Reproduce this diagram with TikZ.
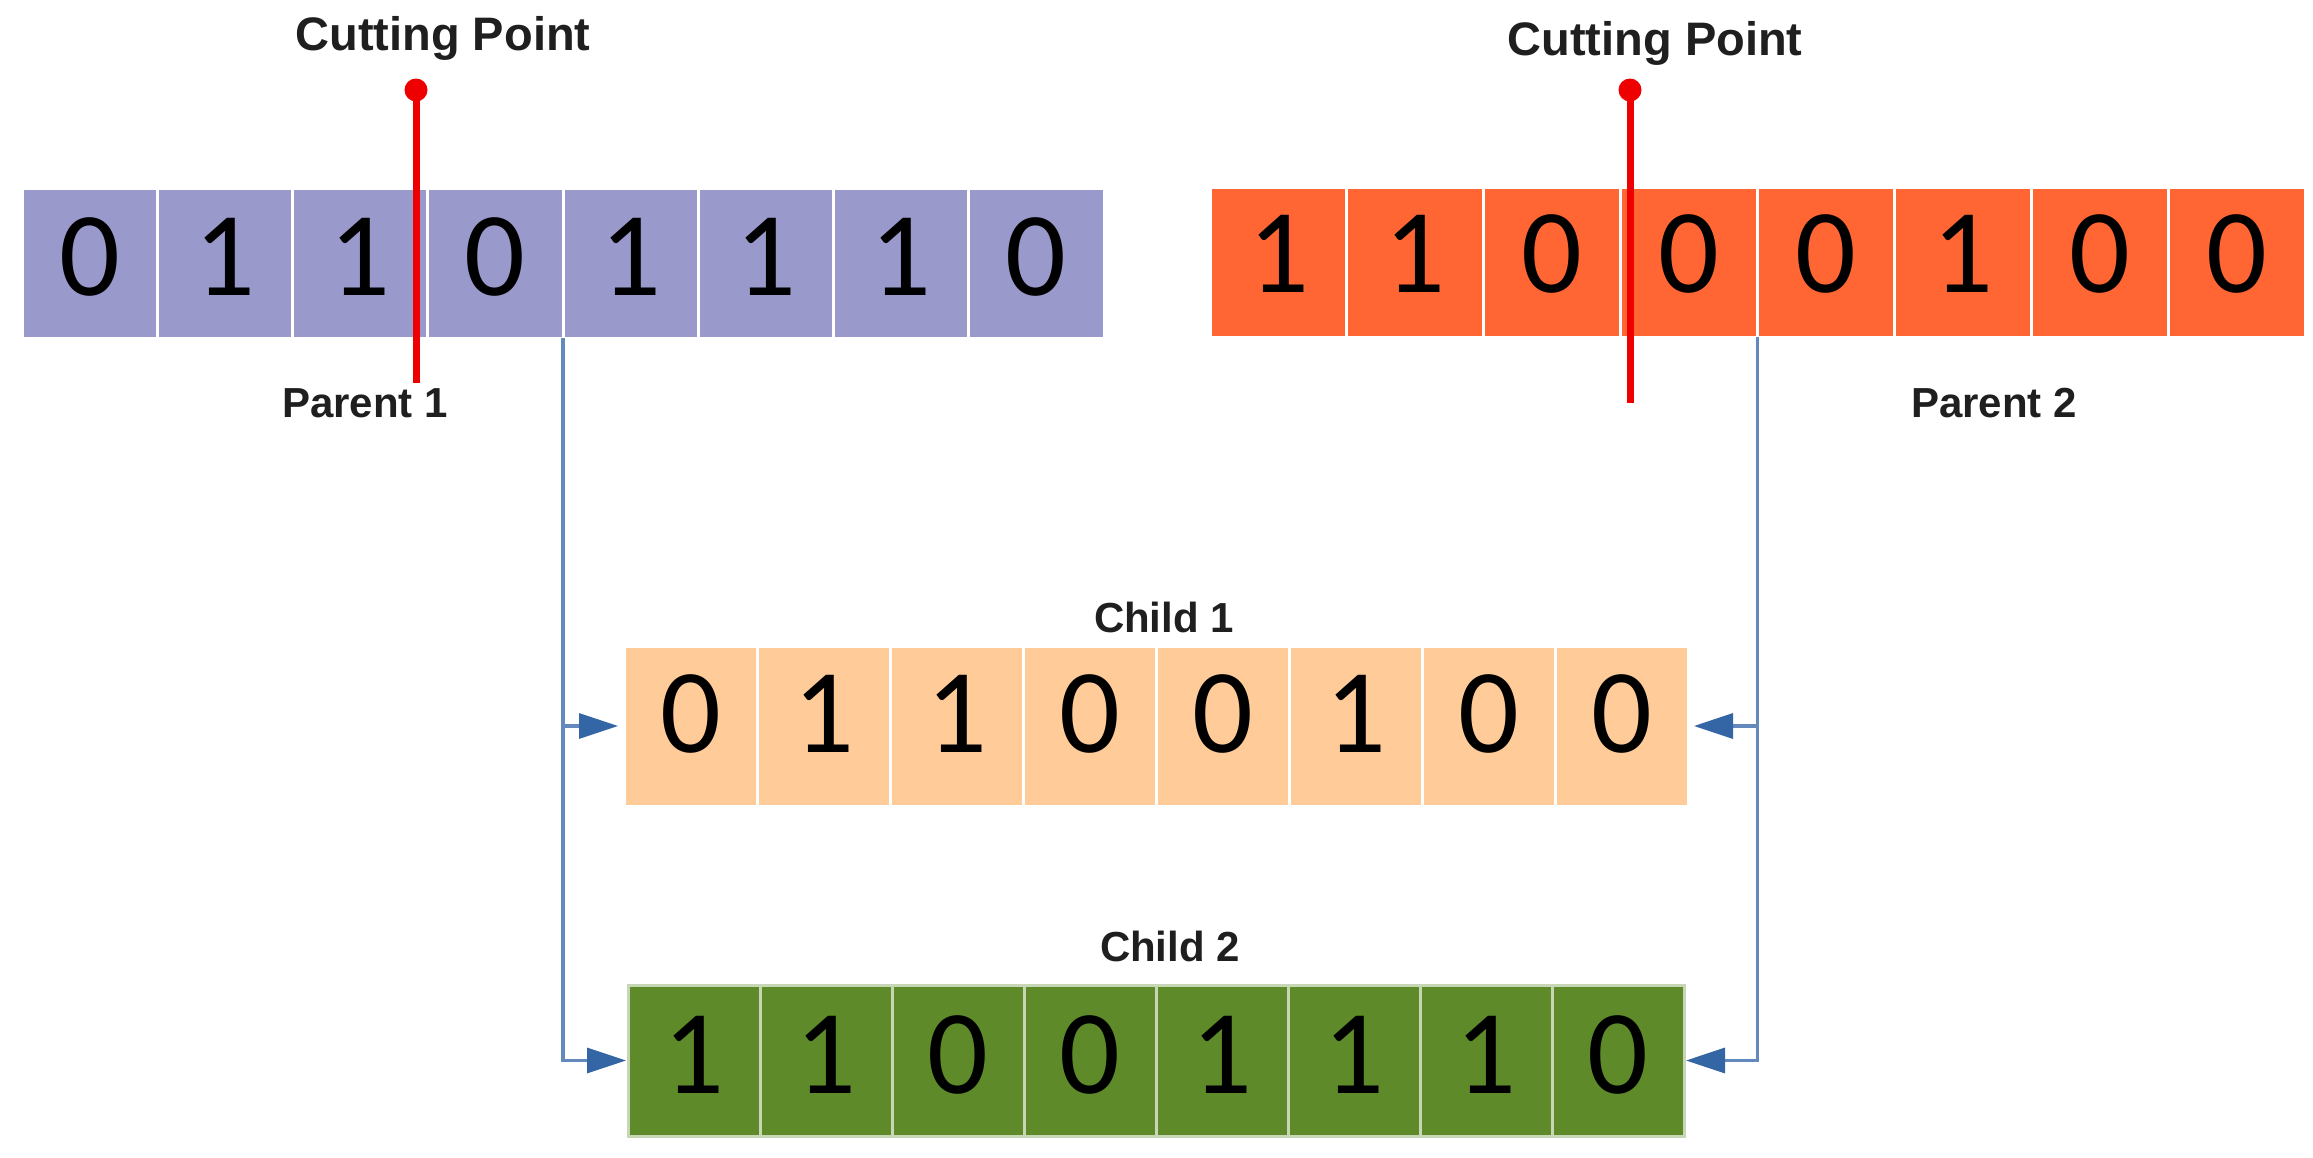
\documentclass[tikz,border=0pt]{standalone}
\usepackage{fontspec}
\setmainfont{Liberation Sans}
\newfontfamily\digitfont{Carlito}
\usetikzlibrary{arrows.meta}
\definecolor{pone}{HTML}{9999CC}
\definecolor{ptwo}{HTML}{FF6633}
\definecolor{cone}{HTML}{FFCC99}
\definecolor{ctwo}{HTML}{5E8A2A}
\definecolor{connblue}{HTML}{3465A4}
\definecolor{connline}{HTML}{6389BD}
\definecolor{cutred}{HTML}{EE0000}
\newcommand\bitrow[9]{% name, x0, y0, cell width, height, fill, baseline, border, digits
  \foreach \d [count=\i] in {#9} {
    \node[cellbox, draw=#8, fill=#6, minimum width={#4*0.5pt}, minimum height={#5*0.5pt}]
      (#1-\i) at ({#2+(\i-0.5)*#4}, {#3+#5/2}) {};
    \node[bit] (#1-b\i) at ({#2+(\i-0.5)*#4}, #7) {\d};
  }
}
\begin{document}
\begin{tikzpicture}[x=0.5pt,y=-0.5pt]
\tikzset{
  cellbox/.style={line width=1.5pt, inner sep=0pt, outer sep=0pt},
  bit/.style={font=\digitfont\fontsize{60pt}{60pt}\selectfont, anchor=base, inner sep=0pt, text=black},
  lbl/.style={font=\bfseries\fontsize{21pt}{21pt}\selectfont, anchor=base, inner sep=0pt, text=black!88},
  cutlbl/.style={lbl, font=\bfseries\fontsize{23.5pt}{23.5pt}\selectfont},
  conn/.style={draw=connline, line width=1.7pt},
  arr/.style={conn, -{Triangle[length=19.5pt,width=12.5pt,color=connblue]}},
  cutline/.style={draw=cutred, line width=3.5pt},
  cutdot/.style={circle, fill=cutred, minimum size=11.5pt, inner sep=0pt},
}
\useasboundingbox (0,0) rectangle (2313,1157);
\fill[white] (0,0) rectangle (2313,1157);

% rows
\bitrow{pa}{22}{188}{135.25}{150}{pone}{295}{white}{0,1,1,0,1,1,1,0}
\bitrow{pb}{1210}{187}{136.9}{150}{ptwo}{292}{white}{1,1,0,0,0,1,0,0}
\bitrow{ca}{624}{646}{133}{160}{cone}{752}{white}{0,1,1,0,0,1,0,0}
\bitrow{cb}{628}{985}{132}{151}{ctwo}{1093}{ctwo!35!white}{1,1,0,0,1,1,1,0}

% labels
\node[cutlbl] (cut1lbl) at (443,50) {Cutting Point};
\node[cutlbl] (cut2lbl) at (1655,55) {Cutting Point};
\node[lbl] (pa-lbl) at (365,417) {Parent 1};
\node[lbl] (pb-lbl) at (1994,417) {Parent 2};
\node[lbl] (ca-lbl) at (1164,632) {Child 1};
\node[lbl] (cb-lbl) at (1170,961) {Child 2};

% connectors
\draw[arr, shorten >=3pt] (pa-4.south east) |- (ca-1.west);
\draw[arr, shorten >=1pt] (pa-4.south east) |- (cb-1.west);
\draw[arr, shorten >=3pt] (pb-4.south east) |- (ca-8.east);
\draw[arr, shorten >=1pt] (pb-4.south east) |- (cb-8.east);

% cutting points
\node[cutdot] (dot1) at (416,90) {};
\coordinate (cut1end) at (416,383);
\draw[cutline] (dot1.center) -- (cut1end);
\node[cutdot] (dot2) at (1630,90) {};
\coordinate (cut2end) at (1630,403);
\draw[cutline] (dot2.center) -- (cut2end);
\end{tikzpicture}
\end{document}
